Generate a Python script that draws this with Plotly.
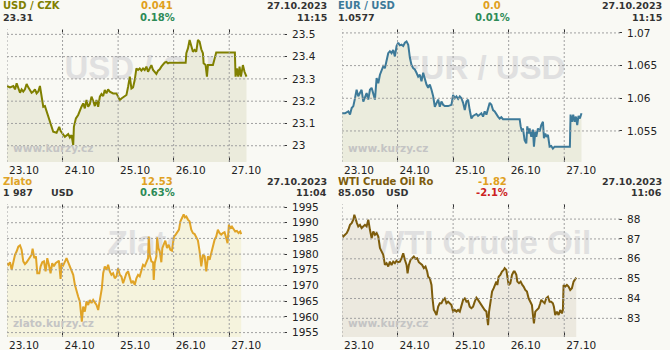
import plotly.graph_objects as go

W, H = 670, 350

# ---------------- data ----------------
day_labels = ["23.10", "24.10", "25.10", "26.10", "27.10"]
day_pos = [0, 1, 2, 3, 4]

# USD / CZK  (time in days since 23.10)
usdczk_t = [0, 0.054, 0.114, 0.144, 0.174, 0.204, 0.234, 0.263, 0.293, 0.323,
            0.353, 0.383, 0.413, 0.443, 0.473, 0.503, 0.533, 0.563, 0.593, 0.623,
            0.653, 0.683, 0.713, 0.743, 0.772, 0.802, 0.832, 0.892, 0.940, 0.964,
            0.994, 1.042, 1.102, 1.132, 1.162, 1.192, 1.204, 1.240, 1.281, 1.311,
            1.341, 1.371, 1.401, 1.431, 1.461, 1.491, 1.521, 1.551, 1.581, 1.611,
            1.641, 1.671, 1.701, 1.731, 1.760, 1.790, 1.820, 1.850, 1.880, 1.910,
            1.970, 2.000, 2.030, 2.060, 2.102, 2.150, 2.180, 2.210, 2.240, 2.269,
            2.299, 2.329, 2.359, 2.389, 2.419, 2.449, 2.479, 2.509, 2.539, 2.569,
            2.599, 2.629, 2.659, 2.689, 2.719, 2.749, 2.778, 2.808, 2.838, 2.868,
            2.898, 2.928, 2.988, 3.216, 3.228, 3.257, 3.287, 3.317, 3.347, 3.377,
            3.407, 3.437, 3.467, 3.497, 3.527, 3.539, 3.575, 3.599, 3.617, 3.707,
            3.737, 3.766, 4.102, 4.114, 4.138, 4.162, 4.186, 4.210, 4.246, 4.275,
            4.311]
usdczk_v = [23.268, 23.262, 23.268, 23.253, 23.280, 23.262, 23.238, 23.253, 23.243, 23.253,
            23.277, 23.262, 23.250, 23.238, 23.243, 23.253, 23.235, 23.243, 23.268, 23.228,
            23.175, 23.178, 23.153, 23.130, 23.112, 23.078, 23.063, 23.058, 23.085, 23.067,
            23.055, 23.040, 23.052, 23.037, 23.048, 23.003, 23.085, 23.123, 23.138, 23.160,
            23.175, 23.190, 23.168, 23.205, 23.175, 23.187, 23.220, 23.202, 23.178, 23.205,
            23.175, 23.220, 23.232, 23.223, 23.250, 23.235, 23.253, 23.243, 23.238, 23.235,
            23.235, 23.220, 23.205, 23.212, 23.220, 23.228, 23.265, 23.310, 23.257, 23.262,
            23.295, 23.347, 23.340, 23.347, 23.337, 23.347, 23.340, 23.355, 23.332, 23.347,
            23.362, 23.340, 23.332, 23.322, 23.337, 23.343, 23.355, 23.367, 23.373, 23.376,
            23.370, 23.373, 23.373, 23.373, 23.415, 23.437, 23.475, 23.445, 23.422, 23.430,
            23.422, 23.475, 23.467, 23.433, 23.415, 23.370, 23.362, 23.310, 23.362, 23.362,
            23.388, 23.418, 23.418, 23.310, 23.347, 23.310, 23.355, 23.310, 23.362, 23.332,
            23.310]

# EUR / USD
eurusd_t = [0, 0.054, 0.114, 0.144, 0.174, 0.204, 0.234, 0.263, 0.293, 0.323,
            0.353, 0.383, 0.413, 0.443, 0.473, 0.503, 0.533, 0.563, 0.593, 0.623,
            0.653, 0.683, 0.713, 0.743, 0.772, 0.802, 0.832, 0.862, 0.892, 0.922,
            0.952, 0.982, 1.012, 1.042, 1.072, 1.102, 1.132, 1.162, 1.192, 1.222,
            1.251, 1.281, 1.311, 1.341, 1.371, 1.401, 1.431, 1.461, 1.491, 1.521,
            1.551, 1.581, 1.611, 1.641, 1.671, 1.701, 1.731, 1.760, 1.790, 1.820,
            1.850, 1.910, 1.970, 2.000, 2.030, 2.060, 2.090, 2.120, 2.150, 2.180,
            2.210, 2.240, 2.269, 2.299, 2.329, 2.359, 2.389, 2.419, 2.449, 2.509,
            2.539, 2.569, 2.599, 2.629, 2.659, 2.689, 2.719, 2.749, 2.778, 2.808,
            2.838, 2.868, 2.898, 2.928, 3.198, 3.216, 3.240, 3.257, 3.287, 3.317,
            3.335, 3.359, 3.377, 3.407, 3.437, 3.455, 3.479, 3.497, 3.527, 3.557,
            3.587, 3.617, 3.635, 3.659, 3.683, 3.707, 3.737, 3.766, 3.796, 3.826,
            4.102, 4.114, 4.138, 4.162, 4.186, 4.210, 4.234, 4.257, 4.281, 4.311]
eurusd_v = [1.0577, 1.0577, 1.0580, 1.0575, 1.0585, 1.0588, 1.0600, 1.0613, 1.0603, 1.0607,
            1.0613, 1.0595, 1.0603, 1.0608, 1.0598, 1.0613, 1.0616, 1.0605, 1.0598, 1.0631,
            1.0623, 1.0636, 1.0644, 1.0649, 1.0646, 1.0659, 1.0669, 1.0672, 1.0669, 1.0674,
            1.0664, 1.0680, 1.0685, 1.0681, 1.0682, 1.0680, 1.0685, 1.0687, 1.0682, 1.0662,
            1.0651, 1.0646, 1.0644, 1.0639, 1.0633, 1.0636, 1.0626, 1.0639, 1.0628, 1.0621,
            1.0616, 1.0621, 1.0613, 1.0603, 1.0587, 1.0593, 1.0598, 1.0587, 1.0595, 1.0590,
            1.0588, 1.0588, 1.0590, 1.0605, 1.0600, 1.0603, 1.0599, 1.0603, 1.0600, 1.0593,
            1.0582, 1.0595, 1.0598, 1.0582, 1.0569, 1.0573, 1.0575, 1.0576, 1.0573, 1.0577,
            1.0572, 1.0580, 1.0575, 1.0585, 1.0593, 1.0590, 1.0582, 1.0580, 1.0575, 1.0572,
            1.0569, 1.0571, 1.0568, 1.0568, 1.0568, 1.0557, 1.0549, 1.0554, 1.0536, 1.0531,
            1.0557, 1.0546, 1.0554, 1.0541, 1.0552, 1.0526, 1.0549, 1.0541, 1.0554, 1.0549,
            1.0559, 1.0564, 1.0539, 1.0546, 1.0541, 1.0544, 1.0526, 1.0527, 1.0523, 1.0526,
            1.0526, 1.0575, 1.0564, 1.0575, 1.0564, 1.0572, 1.0559, 1.0573, 1.0569, 1.0577]

# Zlato (gold, USD)
gold_t = [0, 0.024, 0.054, 0.084, 0.114, 0.144, 0.174, 0.204, 0.234, 0.263,
          0.293, 0.323, 0.353, 0.383, 0.413, 0.443, 0.461, 0.491, 0.521, 0.545,
          0.581, 0.605, 0.635, 0.665, 0.695, 0.725, 0.754, 0.784, 0.814, 0.844,
          0.874, 0.904, 0.934, 0.964, 0.982, 1.012, 1.042, 1.072, 1.102, 1.132,
          1.162, 1.192, 1.222, 1.251, 1.281, 1.311, 1.329, 1.347, 1.371, 1.401,
          1.431, 1.461, 1.491, 1.521, 1.551, 1.581, 1.611, 1.641, 1.671, 1.689,
          1.707, 1.731, 1.760, 1.790, 1.820, 1.850, 1.880, 1.910, 1.940, 1.970,
          2.000, 2.030, 2.060, 2.090, 2.120, 2.150, 2.180, 2.210, 2.240, 2.269,
          2.299, 2.329, 2.359, 2.389, 2.419, 2.449, 2.479, 2.509, 2.539, 2.551,
          2.569, 2.599, 2.629, 2.641, 2.659, 2.689, 2.701, 2.725, 2.749, 2.778,
          2.796, 2.820, 2.850, 2.880, 2.910, 2.940, 2.970, 2.988, 3.006, 3.036,
          3.066, 3.096, 3.120, 3.156, 3.180, 3.204, 3.228, 3.257, 3.287, 3.317,
          3.347, 3.377, 3.407, 3.437, 3.467, 3.497, 3.527, 3.557, 3.587, 3.617,
          3.647, 3.677, 3.707, 3.737, 3.766, 3.796, 3.826, 3.856, 3.886, 3.916,
          3.946, 3.970, 3.994, 4.018, 4.048, 4.078, 4.108, 4.138, 4.168, 4.198,
          4.216]
gold_v = [1977.1, 1976.6, 1977.4, 1975.0, 1977.4, 1979.8, 1980.9, 1982.4, 1982.8, 1981.4,
          1977.7, 1976.8, 1977.4, 1978.2, 1978.9, 1979.8, 1981.7, 1978.7, 1979.3, 1973.9,
          1973.9, 1976.1, 1977.4, 1977.7, 1974.5, 1978.7, 1976.6, 1973.9, 1977.1, 1976.1,
          1977.1, 1977.4, 1977.9, 1972.1, 1977.1, 1976.4, 1977.4, 1978.7, 1977.4, 1976.1,
          1975.0, 1973.4, 1970.2, 1968.1, 1966.5, 1964.9, 1961.7, 1958.5, 1963.3, 1961.7,
          1964.9, 1963.8, 1965.4, 1964.4, 1965.4, 1964.7, 1963.8, 1962.2, 1964.9, 1967.2,
          1969.1, 1973.9, 1976.1, 1975.0, 1976.6, 1974.5, 1973.4, 1973.9, 1972.3, 1972.9,
          1975.5, 1973.4, 1972.9, 1970.7, 1972.3, 1973.9, 1974.5, 1972.3, 1970.7, 1971.5,
          1970.2, 1972.3, 1973.4, 1972.9, 1975.0, 1976.6, 1976.1, 1977.4, 1978.7, 1985.6,
          1979.8, 1977.7, 1977.4, 1971.8, 1977.1, 1979.3, 1985.3, 1981.9, 1980.9, 1977.4,
          1981.9, 1983.0, 1984.3, 1981.9, 1983.0, 1981.4, 1981.1, 1983.5, 1985.6, 1986.2,
          1987.2, 1987.8, 1990.4, 1991.5, 1992.6, 1991.7, 1992.0, 1991.0, 1990.4, 1987.8,
          1986.7, 1986.4, 1985.1, 1984.3, 1980.9, 1976.1, 1979.8, 1979.3, 1974.5, 1979.3,
          1978.2, 1980.3, 1983.0, 1984.6, 1985.6, 1987.8, 1986.7, 1986.2, 1986.7, 1987.0,
          1985.1, 1983.5, 1989.4, 1988.3, 1988.8, 1988.1, 1987.2, 1987.4, 1986.7, 1987.2,
          1986.4]

# WTI Crude Oil
wti_t = [0, 0.024, 0.054, 0.084, 0.114, 0.144, 0.174, 0.204, 0.222, 0.246,
         0.269, 0.293, 0.323, 0.353, 0.383, 0.413, 0.443, 0.473, 0.503, 0.533,
         0.563, 0.593, 0.623, 0.653, 0.683, 0.713, 0.743, 0.772, 0.802, 0.832,
         0.862, 0.892, 0.922, 0.952, 0.982, 1.012, 1.042, 1.072, 1.102, 1.132,
         1.162, 1.180, 1.204, 1.234, 1.263, 1.293, 1.323, 1.353, 1.383, 1.413,
         1.443, 1.473, 1.503, 1.533, 1.551, 1.581, 1.611, 1.629, 1.653, 1.671,
         1.701, 1.731, 1.760, 1.790, 1.820, 1.850, 1.880, 1.910, 1.940, 1.970,
         2.000, 2.030, 2.060, 2.090, 2.120, 2.150, 2.180, 2.210, 2.240, 2.269,
         2.299, 2.329, 2.359, 2.389, 2.419, 2.449, 2.479, 2.509, 2.539, 2.569,
         2.599, 2.629, 2.647, 2.671, 2.701, 2.731, 2.749, 2.778, 2.796, 2.820,
         2.850, 2.880, 2.910, 2.928, 2.958, 2.976, 3.000, 3.030, 3.060, 3.090,
         3.108, 3.138, 3.156, 3.186, 3.216, 3.246, 3.269, 3.299, 3.329, 3.359,
         3.389, 3.419, 3.437, 3.455, 3.479, 3.509, 3.539, 3.569, 3.587, 3.617,
         3.647, 3.677, 3.707, 3.737, 3.766, 3.796, 3.814, 3.838, 3.868, 3.898,
         3.928, 3.958, 3.976, 3.988, 4.018, 4.048, 4.078, 4.108, 4.138, 4.168,
         4.186, 4.216]
wti_v = [87.21, 87.12, 87.21, 87.29, 87.46, 87.71, 87.80, 87.97, 88.22, 87.97,
         87.80, 87.63, 87.71, 87.55, 87.63, 87.71, 87.63, 87.97, 87.46, 87.04,
         87.38, 87.21, 87.29, 87.12, 86.54, 86.37, 86.20, 85.69, 85.78, 85.61,
         85.86, 85.69, 85.86, 85.78, 85.90, 85.83, 85.86, 86.03, 86.28, 85.95,
         85.69, 85.27, 85.69, 85.95, 86.06, 86.11, 86.00, 86.03, 85.83, 85.78,
         85.69, 85.53, 85.61, 85.36, 85.10, 85.02, 84.68, 84.01, 83.42, 83.34,
         83.17, 83.59, 83.76, 83.76, 83.93, 84.01, 83.76, 83.84, 83.76, 83.67,
         83.34, 83.42, 83.34, 83.42, 83.34, 83.59, 83.93, 84.01, 83.84, 83.88,
         83.59, 83.51, 83.59, 83.84, 84.04, 83.93, 83.81, 83.67, 83.51, 83.42,
         83.34, 82.66, 83.34, 83.84, 84.35, 84.52, 84.68, 84.85, 84.68, 85.10,
         85.19, 85.36, 85.44, 85.53, 85.44, 85.10, 84.68, 84.77, 85.19, 85.36,
         85.36, 85.19, 84.85, 84.77, 84.85, 84.68, 84.60, 84.43, 84.35, 84.01,
         83.84, 83.67, 83.17, 82.75, 83.34, 83.42, 83.51, 83.76, 83.93, 83.84,
         83.76, 84.01, 84.09, 83.84, 83.84, 83.76, 83.59, 83.17, 83.34, 83.17,
         83.42, 83.25, 83.42, 84.68, 84.60, 84.68, 84.60, 84.43, 84.52, 84.85,
         84.94, 85.05]

usdczk_ticks = [23.0, 23.1, 23.2, 23.3, 23.4, 23.5]
usdczk_ticktext = ["23", "23.1", "23.2", "23.3", "23.4", "23.5"]
eurusd_ticks = [1.055, 1.06, 1.065, 1.07]
eurusd_ticktext = ["1.055", "1.06", "1.065", "1.07"]
gold_ticks = [1955, 1960, 1965, 1970, 1975, 1980, 1985, 1990, 1995]
gold_ticktext = [str(v) for v in gold_ticks]
wti_ticks = [83, 84, 85, 86, 87, 88]
wti_ticktext = [str(v) for v in wti_ticks]

# header texts
headers = [
    dict(title="USD / CZK", price="23.31", unit="", change="0.041", pct="0.18%",
         date="27.10.2023", time="11:15", site="www.kurzy.cz", mark="USD / CZK"),
    dict(title="EUR / USD", price="1.0577", unit="", change="0.0", pct="0.01%",
         date="27.10.2023", time="11:15", site="www.kurzy.cz", mark="EUR / USD"),
    dict(title="Zlato", price="1 987", unit="USD", change="12.53", pct="0.63%",
         date="27.10.2023", time="11:04", site="zlato.kurzy.cz", mark="Zlato"),
    dict(title="WTI Crude Oil Ro", price="85.050", unit="USD", change="-1.82", pct="-2.1%",
         date="27.10.2023", time="11:06", site="www.kurzy.cz", mark="WTI Crude Oil"),
]

# ---------------- styling ----------------
BG = "#f9f9f4"
panels = [
    dict(t=usdczk_t, v=usdczk_v, yrange=[22.927, 23.524], yt=usdczk_ticks, ytt=usdczk_ticktext,
         line="#808000", fill="#ebebdc", title_color="#808000", pct_color="#2e8b57", origin=(0, 0)),
    dict(t=eurusd_t, v=eurusd_v, yrange=[1.05025, 1.0706], yt=eurusd_ticks, ytt=eurusd_ticktext,
         line="#3d7a99", fill="#ebecdd", title_color="#3d7a99", pct_color="#2e8b57", origin=(335, 0)),
    dict(t=gold_t, v=gold_v, yrange=[1953.6, 1995.96], yt=gold_ticks, ytt=gold_ticktext,
         line="#e0a427", fill="#f5f3dd", title_color="#e0a427", pct_color="#2e8b57", origin=(0, 175)),
    dict(t=wti_t, v=wti_v, yrange=[82.06, 88.76], yt=wti_ticks, ytt=wti_ticktext,
         line="#7d5c0c", fill="#ece9df", title_color="#7d5c0c", pct_color="#cc2222", origin=(335, 175)),
]
XRANGE = [0, 5.04]
PL, PR, PT, PB = 7, 287, 29, 162
TICKFONT = dict(family="DejaVu Sans", size=10.5, color="#222222")
HEADFONT = "DejaVu Sans"
HEADSIZE = 9.5


def fx(px):
    return px / W


def fy(py):
    return 1 - py / H


fig = go.Figure()
shapes = []
annotations = []
layout_axes = {}

for i, (p, h) in enumerate(zip(panels, headers)):
    n = i + 1
    suf = "" if n == 1 else str(n)
    xa, ya = "x" + suf, "y" + suf
    ox, oy = p["origin"]
    y0, y1 = p["yrange"]

    # background watermark (drawn first, hidden by the fill)
    fig.add_trace(go.Scatter(
        x=[(XRANGE[0] + XRANGE[1]) / 2], y=[y0 + 0.684 * (y1 - y0)],
        mode="text", text=[h["mark"]],
        textfont=dict(family="Liberation Sans", size=33, color="#e0e0e0", weight="bold"),
        xaxis=xa, yaxis=ya, hoverinfo="skip", cliponaxis=True))
    # series
    fig.add_trace(go.Scatter(
        x=p["t"], y=p["v"], mode="lines",
        line=dict(color=p["line"], width=2),
        fill="tozeroy", fillcolor=p["fill"],
        xaxis=xa, yaxis=ya, hoverinfo="skip"))

    layout_axes["xaxis" + suf] = dict(
        domain=[fx(ox + PL), fx(ox + PR)], range=XRANGE, anchor=ya, automargin=False,
        tickvals=day_pos, ticktext=day_labels,
        ticks="inside", ticklen=5, tickwidth=1, tickcolor="#333333", mirror="ticks",
        showgrid=False, zeroline=False, showline=False,
        ticklabelshift=17, ticklabelstandoff=0, tickfont=TICKFONT, fixedrange=True)
    layout_axes["yaxis" + suf] = dict(
        domain=[fy(oy + PB), fy(oy + PT)], range=p["yrange"], anchor=xa, side="right",
        automargin=False, tickvals=p["yt"], ticktext=p["ytt"],
        ticks="inside", ticklen=3, tickwidth=1, tickcolor="#333333",
        showgrid=False, zeroline=False, showline=False,
        ticklabelstandoff=4, tickfont=TICKFONT, fixedrange=True)

    # dashed grid lines above the fill
    for d in day_pos:
        shapes.append(dict(type="line", xref=xa, yref=ya + " domain", x0=d, x1=d, y0=0, y1=1,
                           line=dict(color="#a0a0a0", width=1, dash="2px,2px"), layer="above"))
    for v in p["yt"]:
        shapes.append(dict(type="line", xref=xa + " domain", yref=ya, x0=0, x1=1, y0=v, y1=v,
                           line=dict(color="#a0a0a0", width=1, dash="2px,2px"), layer="above"))

    def ann(text, x, y, xanchor, color, size=HEADSIZE):
        annotations.append(dict(text=text, x=fx(ox + x), y=fy(oy + y), xref="paper", yref="paper",
                                xanchor=xanchor, yanchor="middle", showarrow=False, borderpad=0,
                                font=dict(family=HEADFONT, size=size, color=color, weight="bold")))

    ann(h["title"], 2, 6, "left", p["title_color"], 10)
    ann(h["price"], 2, 18, "left", "#333333")
    if h["unit"]:
        ann(h["unit"], 50, 18, "left", "#333333")
    ann(h["change"], 157, 6, "center", "#e0a020", 10)
    ann(h["pct"], 157, 18, "center", p["pct_color"], 10)
    ann(h["date"], 328, 6, "right", "#333333")
    ann(h["time"], 328, 18, "right", "#333333")
    ann(h["site"], 12, 148, "left", "#c4c4c4", 10.5)

fig.update_layout(
    width=W, height=H, margin=dict(l=0, r=0, t=0, b=0, autoexpand=False),
    paper_bgcolor=BG, plot_bgcolor=BG, showlegend=False,
    shapes=shapes, annotations=annotations, **layout_axes)

fig.write_html("out.html")
